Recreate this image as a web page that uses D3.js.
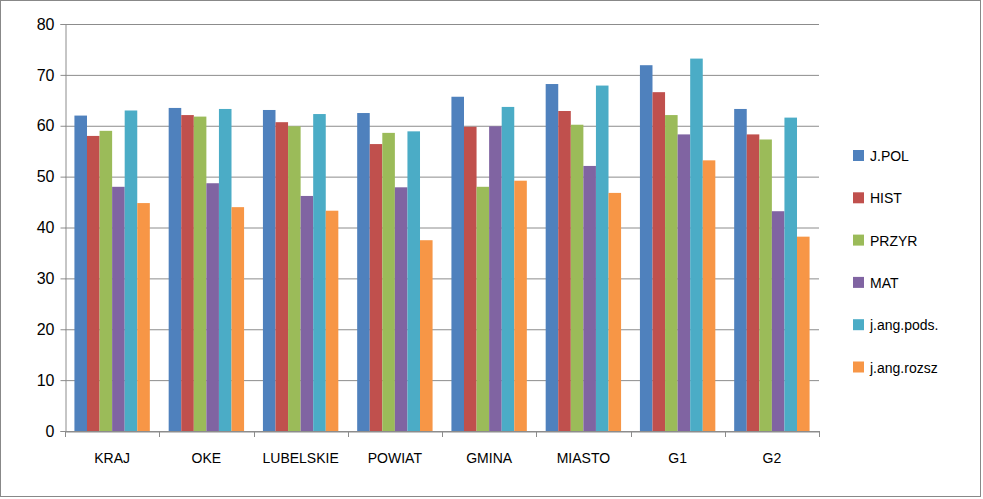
<!DOCTYPE html><html><head><meta charset="utf-8">
<script src="https://cdn.jsdelivr.net/npm/d3@7"></script>
<style>body{margin:0;background:#fff}svg{display:block}</style></head><body>
<svg id="c" width="983" height="499"></svg>
<script>
const categories=["KRAJ","OKE","LUBELSKIE","POWIAT","GMINA","MIASTO","G1","G2"];
const seriesNames=["J.POL","HIST","PRZYR","MAT","j.ang.pods.","j.ang.rozsz"];
const colors=["#4F81BD","#C0504D","#9BBB59","#8064A2","#4BACC6","#F79646"];
const jpol=[62,63.5,63.1,62.5,65.7,68.2,71.9,63.3];
const hist=[58,62.1,60.7,56.4,59.8,62.9,66.6,58.3];
const przyr=[59,61.8,59.9,58.6,48,60.2,62.1,57.3];
const mat=[48,48.7,46.2,47.9,59.9,52.1,58.3,43.2];
const angP=[63,63.3,62.3,58.9,63.7,67.9,73.2,61.6];
const angR=[44.8,44,43.3,37.5,49.2,46.8,53.2,38.2];
const yTicks=[0,10,20,30,40,50,60,70,80];
const values=[jpol,hist,przyr,mat,angP,angR];
const svg=d3.select("#c");
svg.append("rect").attr("x",0.5).attr("y",0.5).attr("width",980).attr("height",496).attr("fill","#fff").attr("stroke","#888");
const L=65,R=819,T=24,B=431;
const x=d3.scaleBand().domain(categories).range([L,R]);
const y=d3.scaleLinear().domain([0,80]).range([B,T]);
const xi=d3.scaleBand().domain(d3.range(6)).range([0,x.bandwidth()]).paddingOuter(0.75);
svg.append("g").selectAll("line").data(yTicks).join("line").attr("x1",L).attr("x2",R)
 .attr("y1",d=>y(d)+0.5).attr("y2",d=>y(d)+0.5).attr("stroke","#8c8c8c");
const g=svg.append("g");
categories.forEach((c,i)=>{values.forEach((s,j)=>{
 g.append("rect").attr("x",x(c)+xi(j)).attr("width",xi.bandwidth()).attr("y",y(s[i])).attr("height",B-y(s[i])).attr("fill",colors[j]);
});});
const ax=svg.append("g").attr("transform",`translate(0,${B+0.5})`).call(d3.axisBottom(x).tickSize(0).tickPadding(22));
ax.select(".domain").attr("stroke","#8c8c8c");
ax.selectAll("text").attr("font-family","Liberation Sans, Arial").attr("font-size",14).attr("fill","#000");
svg.append("g").selectAll("line").data(d3.range(categories.length+1)).join("line")
 .attr("x1",d=>Math.round(L+d*x.step())+0.5).attr("x2",d=>Math.round(L+d*x.step())+0.5).attr("y1",B).attr("y2",B+6).attr("stroke","#8c8c8c");
const ay=svg.append("g").attr("transform",`translate(${L+0.5},0)`).call(d3.axisLeft(y).tickValues(yTicks).tickSize(5).tickPadding(6));
ay.select(".domain").attr("stroke","#8c8c8c");ay.selectAll("line").attr("stroke","#8c8c8c");
ay.selectAll("text").attr("font-family","Liberation Sans, Arial").attr("font-size",16).attr("fill","#000");
const lg=svg.append("g").selectAll("g").data(seriesNames).join("g").attr("transform",(d,i)=>`translate(853,${155+i*42.3})`);
lg.append("rect").attr("width",11).attr("height",11).attr("y",-5).attr("fill",(d,i)=>colors[i]);
lg.append("text").attr("x",17).attr("y",6).text(d=>d).attr("font-family","Liberation Sans, Arial").attr("font-size",14);
</script></body></html>
